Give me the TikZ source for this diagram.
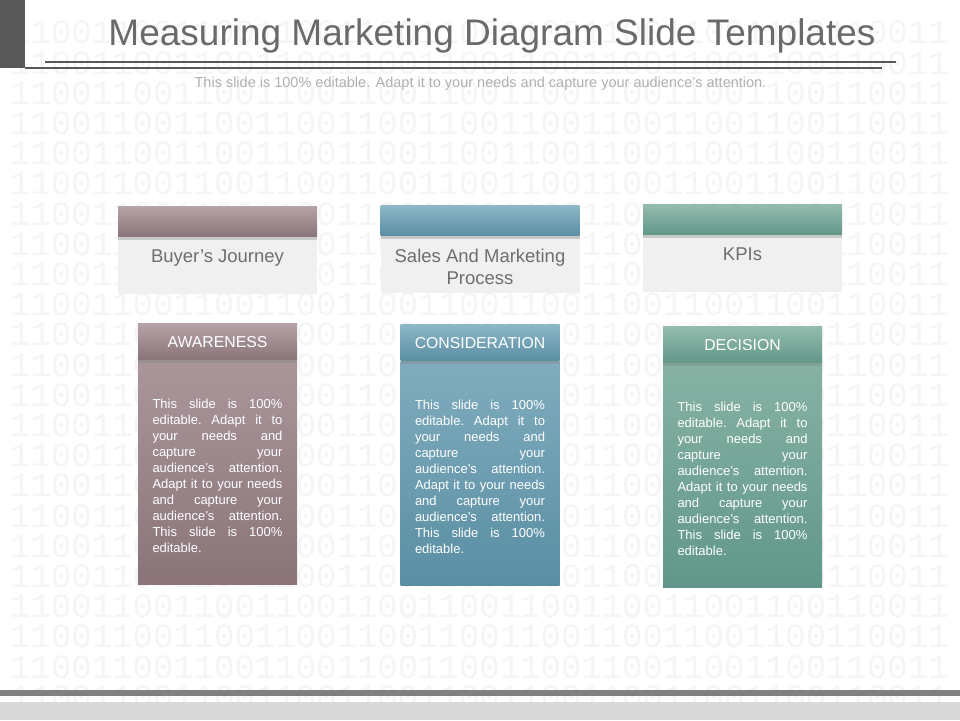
\documentclass[tikz,border=0pt]{standalone}
\usepackage{fontspec}
\setmainfont{Liberation Sans}
\newfontfamily\binfont{Liberation Mono}
\usetikzlibrary{positioning,shadows}

\definecolor{titlegray}{HTML}{6A6A6A}
\definecolor{subgray}{HTML}{B0B0B0}
\definecolor{linegray}{HTML}{585858}
\definecolor{bingray}{HTML}{F5F5F5}
\definecolor{boxgray}{HTML}{F0F0F0}
\definecolor{labelgray}{HTML}{6E6E6E}
\definecolor{mauveA}{HTML}{B5A2A6}
\definecolor{mauveB}{HTML}{8A7479}
\definecolor{blueA}{HTML}{8DB7C7}
\definecolor{blueB}{HTML}{5A8EA3}
\definecolor{greenA}{HTML}{93BBAD}
\definecolor{greenB}{HTML}{61978A}

% one justified line of the column text
\newcommand{\jline}[1]{\makebox[130pt][s]{\spaceskip=0pt\xspaceskip=0pt\frenchspacing #1}\\}
\newcommand{\slidetext}{\jline{This slide is 100\%}\jline{editable. Adapt it to}%
\jline{your needs and}\jline{capture your}\jline{audience's attention.}%
\jline{Adapt it to your needs}\jline{and capture your}\jline{audience's attention.}%
\jline{This slide is 100\%}editable.}

\begin{document}
\begin{tikzpicture}[x=1pt, y=-1pt,
  binrow/.style={anchor=west, inner sep=0pt, text=bingray, font=\binfont\fontsize{34}{34}\selectfont},
  bar/.style={minimum width=199pt, minimum height=30pt, inner sep=0pt,
    drop shadow={shadow xshift=0pt, shadow yshift=-3pt, opacity=0.35}},
  labelbox/.style={fill=boxgray, minimum width=199pt, minimum height=57pt, inner sep=0pt},
  labeltext/.style={anchor=north, align=center, inner sep=0pt, text=labelgray,
    font=\fontsize{18.5}{22}\selectfont},
  headtab/.style={minimum width=159pt, minimum height=36pt, inner sep=0pt, text=white,
    font=\fontsize{15.8}{16}\selectfont,
    drop shadow={shadow xshift=0pt, shadow yshift=-3pt, opacity=0.35}},
  bodybox/.style={minimum width=159pt, minimum height=224pt, inner sep=0pt},
  bodytext/.style={text width=130pt, align=left, inner sep=0pt, text=white,
    font=\fontsize{13}{16}\selectfont}
]
\useasboundingbox (0,0) rectangle (960,720);
\fill[white] (0,0) rectangle (960,720);

% --- binary background ---
\foreach \r in {-2,...,20} {
    \node[binrow] (bin\r) at (10,93+30.2*\r) {1100110011001100110011001100110011001100110011};
}

% --- title ---
\fill[linegray] (0,0) rectangle (25,68);
\node[anchor=base, inner sep=0pt, text=titlegray, font=\fontsize{37}{40}\selectfont]
    (title) at (492,45) {Measuring Marketing Diagram Slide Templates};
\draw[linegray, line width=1.5pt] (45,62) -- (896,62);
\draw[linegray, line width=2pt] (25,68) -- (882,68);
\node[anchor=base, inner sep=0pt, text=subgray, font=\fontsize{14.5}{16}\selectfont]
    (subtitle) at (480.5,87.5) {This slide is 100\% editable. Adapt it to your needs and capture your audience's attention.};

% --- three columns ---
\foreach \i/\cx/\ya/\yb/\clr/\lbl/\hd in {
    1/217.5/207/324/mauve/{Buyer's Journey}/AWARENESS,
    2/480/206/325/blue/{Sales And Marketing\\Process}/CONSIDERATION,
    3/742.5/205/327/green/KPIs/DECISION} {
    % upper tab with its grey box
    \node[labelbox, anchor=north] (lbox\i) at (\cx,\ya+30) {};
    \node[bar, top color=\clr A, bottom color=\clr B, above=0pt of lbox\i] (bar\i) {};
    \node[labeltext] (lbl\i) at ([yshift=-13pt]lbox\i.north) {\lbl};
    % lower column
    \node[bodybox, anchor=north, top color=\clr A!75!\clr B, bottom color=\clr B] (body\i) at (\cx,\yb+36) {};
    \node[headtab, top color=\clr A, bottom color=\clr B, above=0pt of body\i] (head\i) {\hd};
    \node[bodytext] (txt\i) at ([yshift=-4pt]body\i.center) {\slidetext};
}

% --- footer ---
\fill[black!50] (0,690) rectangle (960,696);
\fill[black!15] (0,702) rectangle (960,720);

\end{tikzpicture}
\end{document}
